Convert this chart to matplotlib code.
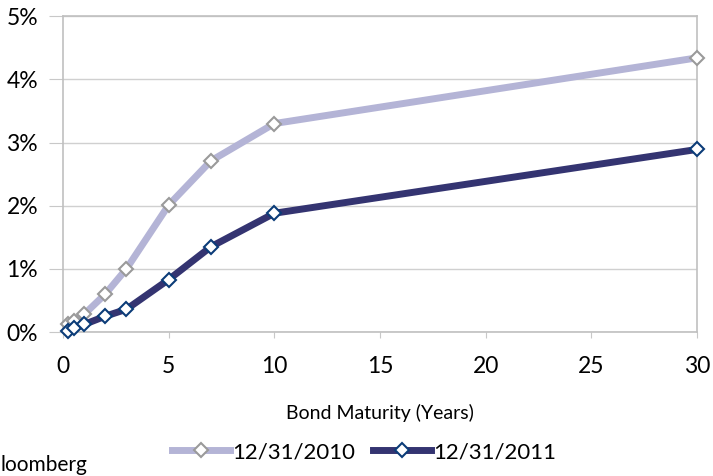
import numpy as np
import matplotlib.pyplot as plt
from matplotlib.ticker import PercentFormatter

plt.rcParams['font.family'] = ['Lato', 'DejaVu Sans']

maturity = [0.25, 0.5, 1, 2, 3, 5, 7, 10, 30]
yield_2010 = [0.12, 0.18, 0.28, 0.60, 1.00, 2.01, 2.71, 3.30, 4.34]
yield_2011 = [0.02, 0.06, 0.12, 0.25, 0.36, 0.83, 1.35, 1.88, 2.89]

fig = plt.figure(figsize=(7.13, 4.76), dpi=100)
ax = fig.add_axes([0.0884, 0.3025, 0.889, 0.6635])

ax.plot(maturity, yield_2010, color='#b4b4d6', lw=5, marker='D', ms=7,
        mfc='white', mec='#9a9a9a', mew=1.5, label='12/31/2010', clip_on=False, zorder=3)
ax.plot(maturity, yield_2011, color='#343471', lw=5, marker='D', ms=7,
        mfc='white', mec='#0b3c78', mew=1.5, label='12/31/2011', clip_on=False, zorder=4)

ax.set_xlim(0, 30)
ax.set_ylim(0, 5)
ax.set_xticks([0, 5, 10, 15, 20, 25, 30])
ax.set_yticks([0, 1, 2, 3, 4, 5])
ax.yaxis.set_major_formatter(PercentFormatter(decimals=0))
ax.grid(axis='y', color='#d0d0d0', lw=1)
ax.set_axisbelow(True)
for s in ax.spines.values():
    s.set_color('#c0c0c0')
    s.set_linewidth(1.2)
ax.tick_params(axis='both', colors='#c8c8c8', labelcolor='black', labelsize=16.5)
ax.tick_params(axis='y', length=10, pad=8)
ax.tick_params(axis='x', length=4, pad=13)
ax.set_xlabel('Bond Maturity (Years)', fontsize=14, labelpad=20)

ax.legend(loc='center', bbox_to_anchor=(0.475, -0.38), ncol=2, frameon=False,
          fontsize=16, handlelength=2.6, handletextpad=0.1, columnspacing=0.8)

fig.text(1 / 713, 1 - 465 / 476, 'loomberg', ha='left', va='center', fontsize=15)

fig.savefig('out.png', dpi=100)
